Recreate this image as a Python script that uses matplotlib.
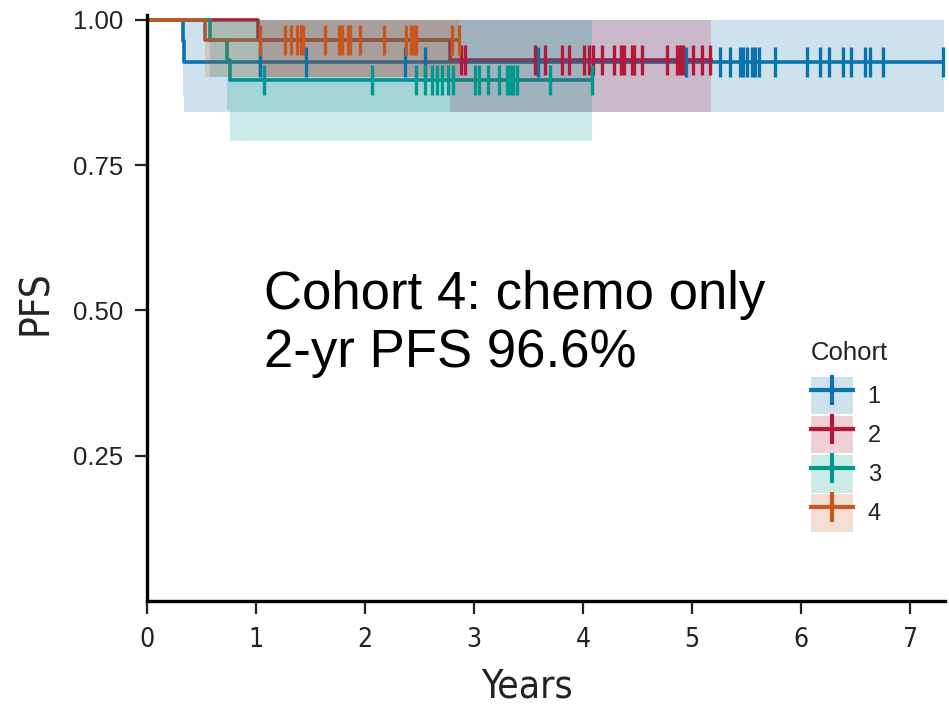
"""Kaplan-Meier style PFS curves by cohort, with CI ribbons and censor ticks."""

from __future__ import annotations

import matplotlib

matplotlib.use("Agg")
import matplotlib.pyplot as plt
from matplotlib.lines import Line2D
from matplotlib.patches import Patch

COHORTS = ["1", "2", "3", "4"]
COLORS = ["#0a72ad", "#b5173b", "#00998d", "#c9561d"]

# step times (years) and survival after each step
STEP_T = [
    [0, 0.33, 0.34],
    [0, 1.02, 2.78],
    [0, 0.58, 0.735, 0.765],
    [0, 0.53],
]
SURV = [
    [1.0, 0.963, 0.928],
    [1.0, 0.966, 0.931],
    [1.0, 0.966, 0.931, 0.897],
    [1.0, 0.966],
]
LOWER = [
    [1.0, 0.87, 0.841],
    [1.0, 0.902, 0.841],
    [1.0, 0.902, 0.845, 0.791],
    [1.0, 0.902],
]
UPPER = [
    [1.0, 1.0, 1.0],
    [1.0, 1.0, 1.0],
    [1.0, 1.0, 1.0, 1.0],
    [1.0, 1.0],
]
END_T = [7.31, 5.17, 4.08, 2.86]

# censoring times
CENSOR = [
    [1.04, 1.46, 2.37, 2.55, 3.59, 4.94, 5.26, 5.35, 5.44, 5.47, 5.50, 5.55,
     5.58, 5.61, 5.76, 6.05, 6.17, 6.26, 6.38, 6.46, 6.59, 6.63, 6.75, 7.30],
    [2.88, 2.92, 3.56, 3.65, 3.81, 3.87, 4.01, 4.05, 4.09, 4.17, 4.28, 4.35,
     4.38, 4.45, 4.47, 4.54, 4.77, 4.86, 4.89, 4.92, 5.01, 5.09, 5.16],
    [1.07, 2.06, 2.47, 2.55, 2.61, 2.66, 2.71, 2.76, 2.81, 3.01, 3.05, 3.13,
     3.23, 3.30, 3.33, 3.36, 3.39, 3.70, 4.08],
    [1.04, 1.27, 1.32, 1.38, 1.41, 1.43, 1.63, 1.76, 1.79, 1.84, 1.86, 1.95,
     2.17, 2.38, 2.42, 2.45, 2.47, 2.80, 2.86],
]

X_TICKS = [0, 1, 2, 3, 4, 5, 6, 7]
Y_TICKS = [0.25, 0.50, 0.75, 1.00]
ANNOT = "Cohort 4: chemo only\n2-yr PFS 96.6%"

SANS = ["Liberation Sans", "DejaVu Sans"]
COND = ["DejaVu Sans"]
INK = "#222222"


def surv_at(t_steps, vals, t):
    out = vals[0]
    for ts, v in zip(t_steps, vals):
        if t >= ts:
            out = v
    return out


def main():
    plt.rcParams["font.family"] = SANS
    fig = plt.figure(figsize=(9.49, 7.07), dpi=100)
    ax = fig.add_axes([147 / 949, 1 - 601 / 707, (945 - 147) / 949, (601 - 15) / 707])

    for i, name in enumerate(COHORTS):
        c = COLORS[i]
        t = STEP_T[i] + [END_T[i]]
        s = SURV[i] + [SURV[i][-1]]
        lo = LOWER[i] + [LOWER[i][-1]]
        hi = UPPER[i] + [UPPER[i][-1]]
        ax.step(t, s, where="post", color=c, lw=2.6, zorder=1 + i * 0.1)
        ax.fill_between(t, lo, hi, step="post", color=c, alpha=0.2, lw=0, zorder=2)
        cy = [surv_at(STEP_T[i], SURV[i], x) for x in CENSOR[i]]
        ax.plot(CENSOR[i], cy, ls="none", marker="|", ms=22, mew=2.4,
                color=c, zorder=3 + i * 0.1)

    ax.set_xlim(0, 7.32)
    ax.set_ylim(0, 1.0086)
    ax.set_xticks(X_TICKS)
    ax.set_yticks(Y_TICKS)
    ax.set_yticklabels([f"{v:.2f}" for v in Y_TICKS], fontsize=18.5, family=SANS,
                       color=INK)
    ax.set_xticklabels([str(v) for v in X_TICKS], fontsize=19, family=COND,
                       fontstretch="condensed", color=INK)
    ax.tick_params(axis="both", length=9, width=1.6, color=INK)
    ax.tick_params(axis="x", pad=10)
    ax.tick_params(axis="y", pad=8)
    for side in ("top", "right"):
        ax.spines[side].set_visible(False)
    for side in ("left", "bottom"):
        ax.spines[side].set_linewidth(2.4)
    ax.set_ylabel("PFS", fontsize=29, family=COND, fontstretch="condensed",
                  labelpad=12, color=INK)
    ax.yaxis.label.set_y(0.51)
    ax.set_xlabel("Years", fontsize=28, family=COND, fontstretch="condensed",
                  labelpad=10, color=INK)
    ax.xaxis.label.set_x(0.476)

    ax.text(1.07, 0.477, ANNOT, fontsize=38, family=SANS, va="center",
            ha="left", linespacing=1.22, color="black")

    # legend: title drawn as its own text so the gap above the keys matches
    ax.text(0.832, (601 - 353) / 586, "Cohort", transform=ax.transAxes,
            fontsize=18.5, family=SANS, color=INK, ha="left", va="center")
    handles = [
        (Patch(facecolor=c, alpha=0.2, lw=0),
         Line2D([], [], color=c, lw=3.0, marker="|", ms=22, mew=3.0))
        for c in COLORS
    ]
    leg = ax.legend(handles, COHORTS, loc="upper left",
                    bbox_to_anchor=(0.832, (601 - 377) / 586), frameon=False,
                    fontsize=17, handlelength=1.8, handleheight=2.05,
                    labelspacing=0.08, handletextpad=0.6, borderpad=0,
                    borderaxespad=0)
    for txt in leg.get_texts():
        txt.set_family(SANS)
        txt.set_color(INK)

    fig.savefig("out.png", dpi=100)
    plt.close(fig)


if __name__ == "__main__":
    main()
